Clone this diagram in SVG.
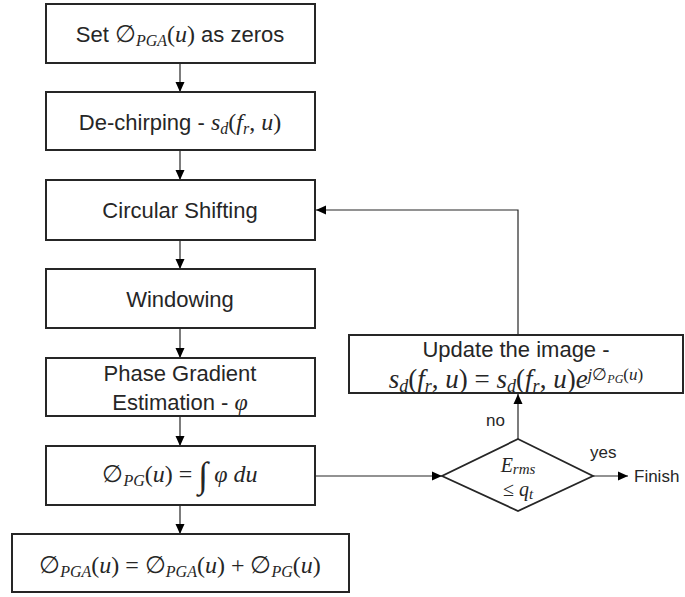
<svg xmlns="http://www.w3.org/2000/svg" width="685" height="597" viewBox="0 0 685 597">
<style>
.box{fill:#fff;stroke:#262626;stroke-width:2}
.t{font-family:"Liberation Sans",Arial,sans-serif;font-size:22px;fill:#262626;text-anchor:middle}
.m{font-family:"Liberation Serif","Times New Roman",serif;font-size:24px;fill:#262626;text-anchor:middle}
.i{font-style:italic}
.s{font-size:16px}
.lbl{font-family:"Liberation Sans",Arial,sans-serif;font-size:17px;fill:#262626}
.c{fill:none;stroke:#262626;stroke-width:1.2}
</style>
<defs>
<marker id="ah" markerUnits="userSpaceOnUse" markerWidth="10" markerHeight="10" refX="10" refY="5" orient="auto">
<path d="M0,0.5 L10,5 L0,9.5 z" fill="#000"/>
</marker>
</defs>
<g id="connectors">
<line class="c" x1="180" y1="63" x2="180" y2="92" marker-end="url(#ah)"/>
<line class="c" x1="180" y1="150" x2="180" y2="180" marker-end="url(#ah)"/>
<line class="c" x1="180" y1="240" x2="180" y2="269" marker-end="url(#ah)"/>
<line class="c" x1="180" y1="328" x2="180" y2="358" marker-end="url(#ah)"/>
<line class="c" x1="180" y1="416" x2="180" y2="446" marker-end="url(#ah)"/>
<line class="c" x1="180" y1="505" x2="180" y2="534" marker-end="url(#ah)"/>
<line class="c" x1="315" y1="476" x2="442" y2="476" marker-end="url(#ah)"/>
<line class="c" x1="518" y1="439" x2="518" y2="394" marker-end="url(#ah)"/>
<polyline class="c" points="518,335 518,210 316,210" marker-end="url(#ah)"/>
<line class="c" x1="593" y1="476" x2="628" y2="476" marker-end="url(#ah)"/>
<text class="lbl" x="486" y="426">no</text>
<text class="lbl" x="590" y="458">yes</text>
<text class="lbl" x="634" y="482">Finish</text>
</g>
<g id="set-zeros">
<rect class="box" x="46" y="4" width="269" height="59"/>
<text class="t" x="180" y="42">Set <tspan class="m" style="text-anchor:start">∅</tspan><tspan class="m i s" dy="4" style="text-anchor:start">PGA</tspan><tspan class="m" dy="-4" style="text-anchor:start">(</tspan><tspan class="m i" style="text-anchor:start">u</tspan><tspan class="m" style="text-anchor:start">)</tspan> as zeros</text>
</g>
<g id="dechirping">
<rect class="box" x="46" y="92" width="269" height="58"/>
<text class="t" x="180" y="130">De-chirping - <tspan class="m i">s</tspan><tspan class="m i s" dy="4">d</tspan><tspan class="m" dy="-4">(</tspan><tspan class="m i">f</tspan><tspan class="m i s" dy="4">r</tspan><tspan class="m" dy="-4">, </tspan><tspan class="m i">u</tspan><tspan class="m">)</tspan></text>
</g>
<g id="circular">
<rect class="box" x="46" y="180" width="269" height="60"/>
<text class="t" x="180" y="218">Circular Shifting</text>
</g>
<g id="windowing">
<rect class="box" x="46" y="269" width="269" height="59"/>
<text class="t" x="180" y="307">Windowing</text>
</g>
<g id="phase-gradient">
<rect class="box" x="46" y="358" width="269" height="58"/>
<text class="t" x="180" y="381">Phase Gradient</text>
<text class="t" x="180" y="410">Estimation - <tspan class="m i">φ</tspan></text>
</g>
<g id="integrate">
<rect class="box" x="46" y="446" width="269" height="59"/>
<text class="m" x="180" y="482">∅<tspan class="i s" dy="4">PG</tspan><tspan dy="-4">(</tspan><tspan class="i">u</tspan>) = <tspan style="font-size:36px" dy="5">∫</tspan><tspan dy="-5"> </tspan><tspan class="i">φ du</tspan></text>
</g>
<g id="accumulate">
<rect class="box" x="12" y="534" width="337" height="58"/>
<text class="m" x="180" y="573">∅<tspan class="i s" dy="4">PGA</tspan><tspan dy="-4">(</tspan><tspan class="i">u</tspan>) = ∅<tspan class="i s" dy="4">PGA</tspan><tspan dy="-4">(</tspan><tspan class="i">u</tspan>) + ∅<tspan class="i s" dy="4">PG</tspan><tspan dy="-4">(</tspan><tspan class="i">u</tspan>)</text>
</g>
<g id="update">
<rect class="box" x="349" y="335" width="334" height="58"/>
<text class="t" x="516" y="357">Update the image  -</text>
<text class="m" x="516" y="388" style="font-size:27px"><tspan class="i">s</tspan><tspan class="i" style="font-size:18px" dy="4">d</tspan><tspan dy="-4">(</tspan><tspan class="i">f</tspan><tspan class="i" style="font-size:18px" dy="4">r</tspan><tspan dy="-4">, </tspan><tspan class="i">u</tspan>) = <tspan class="i">s</tspan><tspan class="i" style="font-size:18px" dy="4">d</tspan><tspan dy="-4">(</tspan><tspan class="i">f</tspan><tspan class="i" style="font-size:18px" dy="4">r</tspan><tspan dy="-4">, </tspan><tspan class="i">u</tspan>)<tspan class="i">e</tspan><tspan style="font-size:17px" dy="-8"><tspan class="i">j</tspan>∅<tspan class="i" style="font-size:12px" dy="3">PG</tspan><tspan dy="-3">(</tspan><tspan class="i">u</tspan>)</tspan></text>
</g>
<g id="decision">
<polygon class="box" points="518,439 593,476 518,511 442,476" style="stroke-width:1.8"/>
<text class="m" x="518" y="472" style="font-size:20px"><tspan class="i">E</tspan><tspan class="i" style="font-size:15px" dy="2">rms</tspan></text>
<text class="m" x="518" y="496" style="font-size:20px">≤ <tspan class="i">q</tspan><tspan class="i" style="font-size:15px" dy="3">t</tspan></text>
</g>
</svg>
